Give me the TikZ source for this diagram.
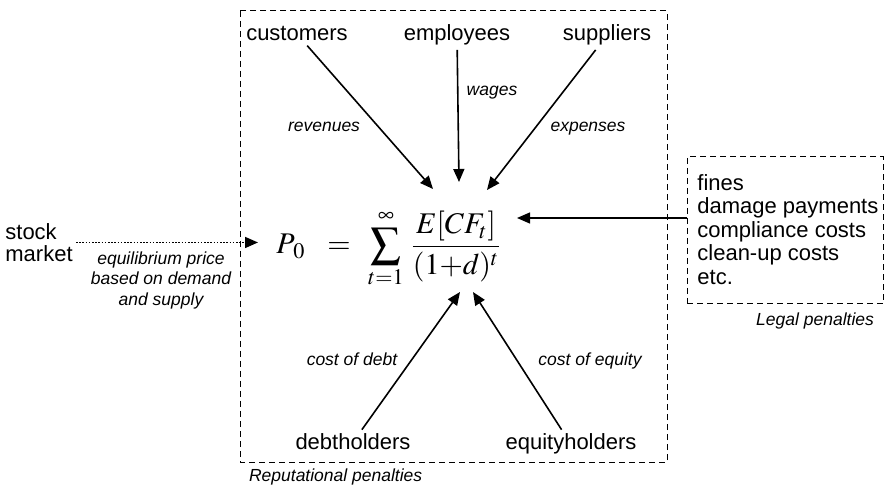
\documentclass[tikz,border=0pt]{standalone}
\usepackage{mathptmx}
\usepackage[no-math]{fontspec}
\setmainfont{Liberation Sans}
\usetikzlibrary{arrows.meta}

\tikzset{
	party/.style={font=\fontsize{11}{11}\selectfont, anchor=base, inner sep=2pt},
	flow/.style={font=\fontsize{8.75}{10.25}\selectfont\itshape, anchor=base},
	pen/.style={-{Triangle[length=6.5pt,width=5.5pt]}, line width=0.8pt},
	frame/.style={dash pattern=on 3pt off 2pt, line width=0.5pt},
	formula/.style={anchor=base, inner sep=0pt, font=\fontsize{15}{18}\selectfont},
}

\begin{document}
\begin{tikzpicture}[x=0.5pt,y=-0.5pt]
		\useasboundingbox (0,0) rectangle (885,492);
		
		% reputational penalties
		\draw[frame] (240,11) rectangle (667,462);
		\node[flow, anchor=base west] (reputational) at (242,481) {Reputational penalties};
		
		% valuation formula
		\node[formula] (price) at (291,254) {$P_{\,0}$};
		\node[formula] (equals) at (339,254) {$=$};
		\node[formula] (sum) at (386,254) {$\displaystyle\sum_{t=1}^{\infty}$};
		\node[formula] (cashflow) at (456,254) {$\displaystyle\frac{E[CF_t]}{(1{+}d)^t}$};
		
		\coordinate (revtip) at (433,189);
		\coordinate (wagetip) at (459,182);
		\coordinate (exptip) at (487,190);
		\coordinate (debttip) at (460,292);
		\coordinate (equitytip) at (473,292);
		\coordinate (legaltip) at (517,218);
		\coordinate (stocktip) at (258,243);
		
		\node[party] (customers) at (297,41) {customers};
		\node[party] (employees) at (457,41) {employees};
		\node[party] (suppliers) at (607,41) {suppliers};
		\node[party] (debtholders) at (353,450) {debtholders};
		\node[party] (equityholders) at (571,450) {equityholders};
		
		\draw[pen] (customers) -- (revtip);
		\draw[pen] (employees) -- (wagetip);
		\draw[pen] (suppliers) -- (exptip);
		\draw[pen] (debtholders) -- (debttip);
		\draw[pen] (equityholders) -- (equitytip);
		
		\node[flow] (revenues) at (324,132) {revenues};
		\node[flow] (wages) at (492,96) {wages};
		\node[flow] (expenses) at (588,132) {expenses};
		\node[flow] (costdebt) at (352,365) {cost of debt};
		\node[flow] (costequity) at (590,365) {cost of equity};
		
		% stock market
		\node[party, anchor=north west, align=left, inner sep=0pt] (stock) at (5,223) {stock\\market};
		\draw[pen, dash pattern=on 0.8pt off 0.8pt, shorten <=1.5pt] (stock.east) -- (stock.east -| stocktip);
		\node[flow, anchor=north, align=center, inner sep=0pt] (equilibrium) at (161,251) {equilibrium price\\based on demand\\and supply};
		
		% legal penalties
		\node[draw, frame, minimum width=98pt, minimum height=73.5pt] (legal) at (785,230.5) {};
		\node[party, anchor=north west, align=left, inner sep=0pt, font=\fontsize{11}{11.75}\selectfont] (fines) at (697,174) {fines\\damage payments\\compliance costs\\clean-up costs\\etc.};
		\draw[pen, line width=0.6pt] (legal.west |- legaltip) -- (legaltip);
		\node[flow, anchor=base east] (legalpen) at (881,326) {Legal penalties};
	\end{tikzpicture}
\end{document}
